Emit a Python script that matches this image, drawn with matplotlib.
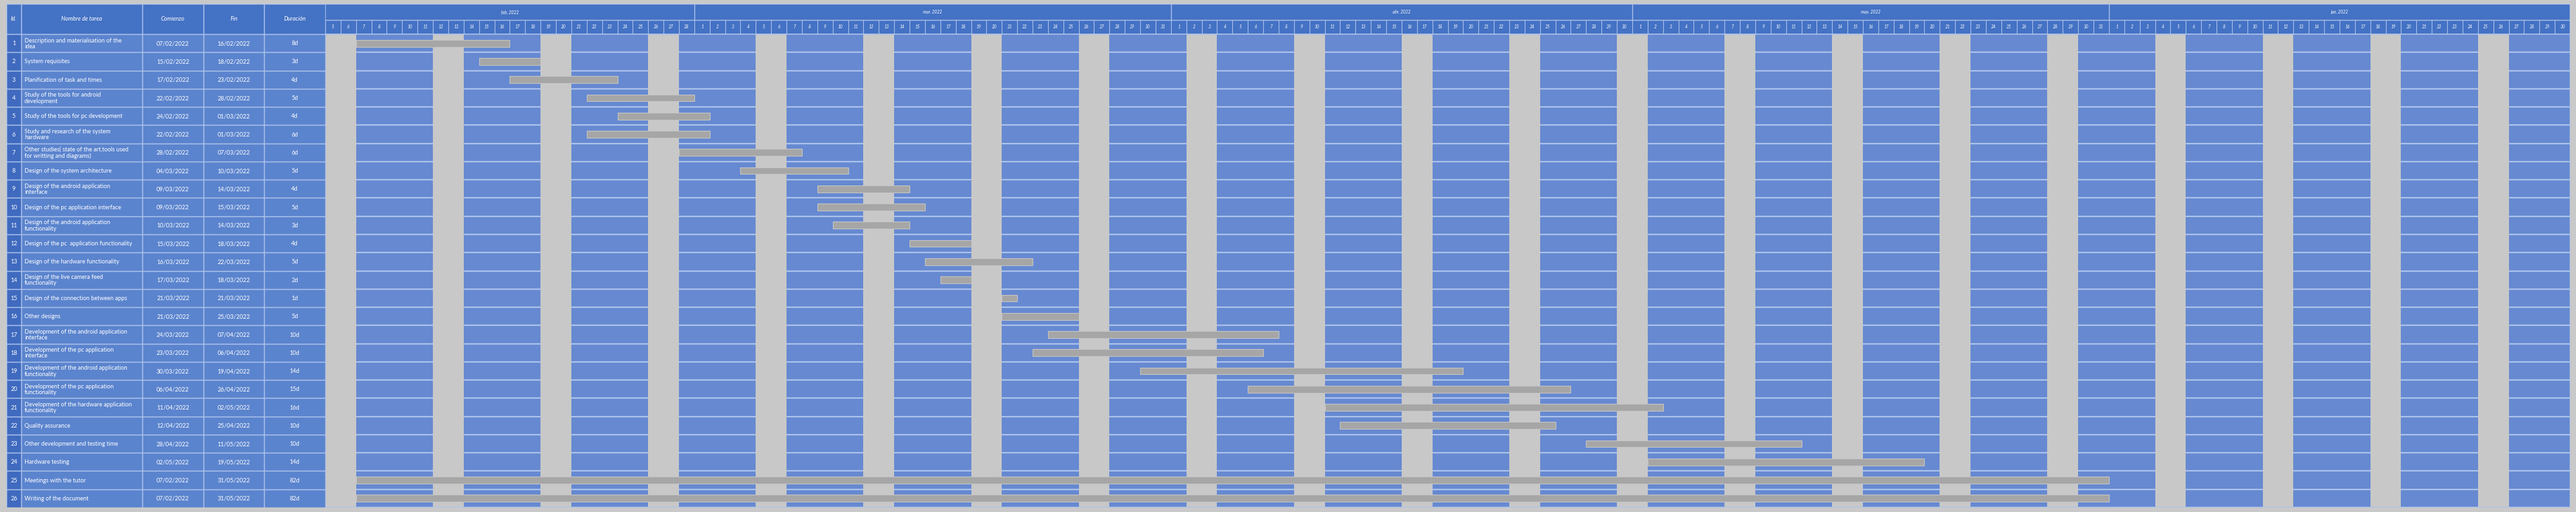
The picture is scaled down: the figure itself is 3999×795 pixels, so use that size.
import matplotlib
matplotlib.use("Agg")
import matplotlib.pyplot as plt
import pandas as pd

TASK_IDS = list(range(1, 27))
TASK_NAMES = [
    "Description and materialisation of the\nidea",
    "System requisites",
    "Planification of task and times",
    "Study of the tools for android\ndevelopment",
    "Study of the tools for pc development",
    "Study and research of the system\nhardware",
    "Other studies( state of the art,tools used\nfor writting and diagrams)",
    "Design of the system architecture",
    "Design of the android application\ninterface",
    "Design of the pc application interface",
    "Design of the android application\nfunctionality",
    "Design of the pc  application functionality",
    "Design of the hardware functionality",
    "Design of the live camera feed\nfunctionality",
    "Design of the connection between apps",
    "Other designs",
    "Development of the android application\ninterface",
    "Development of the pc application\ninterface",
    "Development of the android application\nfunctionality",
    "Development of the pc application\nfunctionality",
    "Development of the hardware application\nfunctionality",
    "Quality assurance",
    "Other development and testing time",
    "Hardware testing",
    "Meetings with the tutor",
    "Writing of the document",
]
START_DATES = [
    "07/02/2022", "15/02/2022", "17/02/2022", "22/02/2022", "24/02/2022",
    "22/02/2022", "28/02/2022", "04/03/2022", "09/03/2022", "09/03/2022",
    "10/03/2022", "15/03/2022", "16/03/2022", "17/03/2022", "21/03/2022",
    "21/03/2022", "24/03/2022", "23/03/2022", "30/03/2022", "06/04/2022",
    "11/04/2022", "12/04/2022", "28/04/2022", "02/05/2022", "07/02/2022",
    "07/02/2022",
]
END_DATES = [
    "16/02/2022", "18/02/2022", "23/02/2022", "28/02/2022", "01/03/2022",
    "01/03/2022", "07/03/2022", "10/03/2022", "14/03/2022", "15/03/2022",
    "14/03/2022", "18/03/2022", "22/03/2022", "18/03/2022", "21/03/2022",
    "25/03/2022", "07/04/2022", "06/04/2022", "19/04/2022", "26/04/2022",
    "02/05/2022", "25/04/2022", "11/05/2022", "19/05/2022", "31/05/2022",
    "31/05/2022",
]
DURATIONS = ["8d", "3d", "4d", "5d", "4d", "6d", "6d", "5d", "4d", "5d", "3d", "4d", "5d",
             "2d", "1d", "5d", "10d", "10d", "14d", "15d", "16d", "10d", "10d", "14d",
             "82d", "82d"]
TABLE_HEADERS = ["Id.", "Nombre de tarea", "Comienzo", "Fin", "Duración"]
MONTH_LABELS = ["feb. 2022", "mar. 2022", "abr. 2022", "may. 2022", "jun. 2022"]
TIMELINE_START = "05/02/2022"
TIMELINE_END = "30/06/2022"

# colours
BG = "#c9c9c9"
HEAD = "#4472c4"
ID_BODY = "#3f6abf"
TABLE_BODY = "#5b84ce"
GANTT_BODY = "#6689d1"
LINE = "#adc3eb"
WEEKEND = "#c8c8c8"
BAR = "#a6a6a6"

plt.rcParams["font.family"] = ["Lato", "DejaVu Sans"]

W, H = 3999, 795
TOP, BOTTOM = 6, 788
TABLE_LEFT, SPLIT, RIGHT = 10, 505, 3990
COL_WIDTHS = [23, 188, 95, 94, 95]
N = len(TASK_IDS)
ROW_PX = (BOTTOM - TOP - 47) / N
HEADER = 47 / ROW_PX

fig = plt.figure(figsize=(W / 100, H / 100), dpi=100, facecolor=BG)


def _axes(x0, x1):
    ax = fig.add_axes([x0 / W, (H - BOTTOM) / H, (x1 - x0) / W, (BOTTOM - TOP) / H])
    ax.set_ylim(N, -HEADER)
    ax.set_axis_off()
    return ax


# ---------------- table ----------------
tab = _axes(TABLE_LEFT, SPLIT)
tab.set_xlim(0, sum(COL_WIDTHS))
lefts = [sum(COL_WIDTHS[:i]) for i in range(len(COL_WIDTHS))]
rows = list(range(N))

tab.barh([-HEADER / 2] * len(COL_WIDTHS), COL_WIDTHS, left=lefts, height=HEADER,
         align="center", color=HEAD, edgecolor=LINE, linewidth=1.0)
for i, w in enumerate(COL_WIDTHS):
    color = ID_BODY if i == 0 else TABLE_BODY
    tab.barh([r + 0.5 for r in rows], [w] * N, left=lefts[i], height=1.0,
             color=color, edgecolor=LINE, linewidth=1.0)

for label, left, w in zip(TABLE_HEADERS, lefts, COL_WIDTHS):
    tab.text(left + w / 2, -HEADER / 2, label, ha="center", va="center",
             color="white", fontsize=6.5, style="italic")

columns = [
    [str(i) for i in TASK_IDS],
    TASK_NAMES,
    START_DATES,
    END_DATES,
    DURATIONS,
]
for c, values in enumerate(columns):
    for r, v in enumerate(values):
        if c == 1:
            tab.text(lefts[c] + 5, r + 0.52, v, ha="left", va="center", color="white",
                     fontsize=6.6, linespacing=1.05)
        else:
            tab.text(lefts[c] + COL_WIDTHS[c] / 2, r + 0.52, v, ha="center",
                     va="center", color="white", fontsize=6.6)

# ---------------- gantt ----------------
gan = _axes(SPLIT, RIGHT)
t0 = pd.to_datetime(TIMELINE_START, dayfirst=True)
t1 = pd.to_datetime(TIMELINE_END, dayfirst=True)
days = pd.date_range(t0, t1, freq="D")
n_days = len(days)
gan.set_xlim(0, n_days)

# body
gan.barh([N / 2], [n_days], left=0, height=N, color=GANTT_BODY, zorder=1)
for r in range(1, N + 1):
    gan.axhline(r, color=LINE, linewidth=1.6, zorder=2)

# weekends
weekend_idx = [i for i, d in enumerate(days) if d.weekday() >= 5]
gan.bar(weekend_idx, [N] * len(weekend_idx), bottom=0, width=1.0, align="edge",
        color=WEEKEND, zorder=3)

# tasks
starts = pd.to_datetime(START_DATES, dayfirst=True)
ends = pd.to_datetime(END_DATES, dayfirst=True)
offsets = [(s - t0).days for s in starts]
spans = [(e - s).days + 1 for s, e in zip(starts, ends)]
gan.barh([r + 0.5 for r in rows], spans, left=offsets, height=0.38, color=BAR,
         edgecolor="#c6c6c6", linewidth=0.8, zorder=4)

# header
gan.barh([-HEADER / 2], [n_days], left=0, height=HEADER, color=HEAD, zorder=1)
gan.axhline(-HEADER, color=LINE, linewidth=1.6, zorder=5)
gan.axhline(-HEADER * 0.47, color=LINE, linewidth=1.0, zorder=5)
gan.axhline(0, color=LINE, linewidth=1.2, zorder=5)
for i, d in enumerate(days):
    gan.vlines(i, -HEADER * 0.47, 0, color=LINE, linewidth=0.8, zorder=5)
    gan.text(i + 0.5, -HEADER * 0.235, str(d.day), ha="center", va="center",
             color="white", fontsize=4.8, style="italic", zorder=6)

months = days.to_period("M")
month_keys = list(dict.fromkeys(months))
for label, key in zip(MONTH_LABELS, month_keys):
    idx = [i for i, m in enumerate(months) if m == key]
    a, b = idx[0], idx[-1] + 1
    if a > 0:
        gan.vlines(a, -HEADER, -HEADER * 0.47, color=LINE, linewidth=1.0, zorder=5)
    gan.text((a + b) / 2, -HEADER * 0.74, label, ha="center", va="center",
             color="white", fontsize=4.8, style="italic", zorder=6)

gan.vlines([0, n_days], -HEADER, N, color=LINE, linewidth=1.2, zorder=5)
gan.axhline(N, color=LINE, linewidth=1.6, zorder=5)

fig.savefig("out.png", dpi=100, facecolor=BG)
